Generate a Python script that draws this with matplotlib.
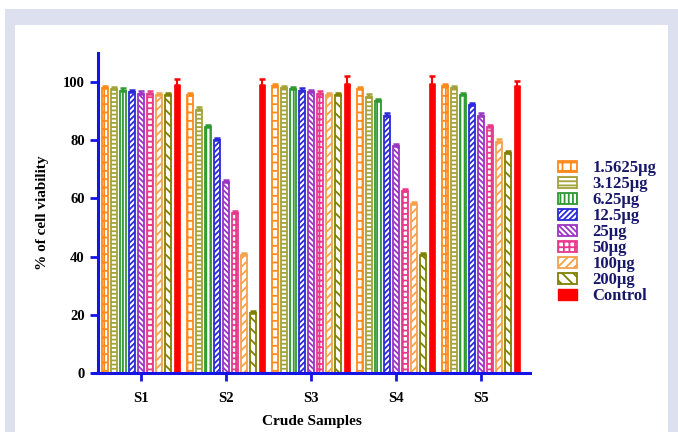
import numpy as np
import matplotlib
matplotlib.use('Agg')
import matplotlib.pyplot as plt
from matplotlib.patches import Rectangle, Patch

# 字体设置
plt.rcParams['font.family'] = ['Liberation Serif', 'DejaVu Serif']
plt.rcParams['font.weight'] = 'bold'
plt.rcParams['hatch.linewidth'] = 1.3

# 数据
samples = ['S1', 'S2', 'S3', 'S4', 'S5']
doses = ['1.5625µg', '3.125µg', '6.25µg', '12.5µg', '25µg', '50µg', '100µg', '200µg']
viability = {
    '1.5625µg': [98.0, 95.5, 98.5, 97.5, 98.5],
    '3.125µg':  [97.5, 90.5, 98.0, 95.0, 98.0],
    '6.25µg':   [97.0, 84.5, 97.5, 93.5, 95.5],
    '12.5µg':   [96.5, 80.0, 97.0, 88.5, 92.0],
    '25µg':     [96.0, 65.5, 96.5, 78.0, 88.5],
    '50µg':     [96.0, 55.0, 96.0, 62.5, 84.5],
    '100µg':    [95.5, 40.5, 95.5, 58.0, 79.5],
    '200µg':    [95.5, 20.5, 95.5, 40.5, 75.5],
}
errors = [0.8, 0.8, 0.8, 0.8, 0.8]
control = [99.0, 99.0, 99.5, 99.5, 98.5]
control_err = [2.0, 2.0, 2.5, 2.5, 2.0]

# 样式
colors = ['#ff8a1c', '#a3a33c', '#2f9a32', '#2a2ad8', '#9b35c2', '#e8398d', '#f4a24c', '#808000']
hatches = ['++', '----', '||||', '//////', '\\\\\\\\\\\\', '+++', '////', '\\\\\\']
blue = '#1414e6'
navy = '#17176a'

fig = plt.figure(figsize=(6.78, 4.32), dpi=100)
fig.patch.set_facecolor('white')
# 背景框
fig.patches.append(Rectangle((5 / 678, 0), 673 / 678, (432 - 9) / 432, transform=fig.transFigure,
                             facecolor='#dde0ee', edgecolor='none', zorder=-2))
fig.patches.append(Rectangle((15 / 678, 0), (668 - 15) / 678, (432 - 25) / 432, transform=fig.transFigure,
                             facecolor='white', edgecolor='none', zorder=-1))

ax = fig.add_axes([93 / 678, (432 - 373) / 432, (530 - 93) / 678, (373 - 53) / 432])
ax.set_facecolor('none')

x = np.arange(len(samples))
step = 0.106
width = 0.076

for j, d in enumerate(doses):
    pos = x + (j - 4) * step
    ax.bar(pos, viability[d], width, color='white', edgecolor=colors[j], hatch=hatches[j],
           linewidth=1.3, label=d, zorder=2)
    ax.errorbar(pos, viability[d], yerr=[np.zeros(len(samples)), errors], fmt='none',
                ecolor=colors[j], elinewidth=1.5, capsize=2.5, capthick=1.8, zorder=3)

pos = x + 4 * step
ax.bar(pos, control, width, color='#ff0000', edgecolor='#ff0000', linewidth=0.5, label='Control', zorder=2)
ax.errorbar(pos, control, yerr=[np.zeros(len(samples)), control_err], fmt='none',
            ecolor='#ff0000', elinewidth=1.5, capsize=2.5, capthick=1.8, zorder=3)

ax.set_xlim(-0.565, 4.576)
ax.set_ylim(0, 110)
ax.set_yticks([0, 20, 40, 60, 80, 100])
ax.set_xticks(x)
ax.set_xticklabels(samples)

for s in ['top', 'right']:
    ax.spines[s].set_visible(False)
ax.spines['left'].set_position(('axes', 5 / 437))
ax.spines['left'].set_color(blue)
ax.spines['bottom'].set_color(blue)
ax.spines['left'].set_linewidth(2.2)
ax.spines['bottom'].set_linewidth(2.2)
ax.tick_params(axis='both', colors=blue, width=2, length=6, labelsize=10.5)
ax.tick_params(axis='x', pad=8)
for lbl in ax.get_xticklabels() + ax.get_yticklabels():
    lbl.set_color('black')
    lbl.set_fontweight('bold')

ax.set_xlabel('Crude Samples', fontsize=11, fontweight='bold', labelpad=7)
ax.set_ylabel('% of cell viability', fontsize=11, fontweight='bold', labelpad=10)

# 图例
handles = [Patch(facecolor='white', edgecolor=colors[j], hatch=hatches[j], linewidth=1.3) for j in range(len(doses))]
handles.append(Patch(facecolor='#ff0000', edgecolor='#ff0000'))
leg = fig.legend(handles, doses + ['Control'], loc='upper left',
                 bbox_to_anchor=(543 / 678, (432 - 145) / 432), frameon=False,
                 prop={'family': 'Liberation Serif', 'weight': 'bold', 'size': 12},
                 handlelength=1.15, handleheight=0.65, handletextpad=0.9, labelspacing=0.0)
for t in leg.get_texts():
    t.set_color(navy)

fig.savefig('out.png', dpi=100)
